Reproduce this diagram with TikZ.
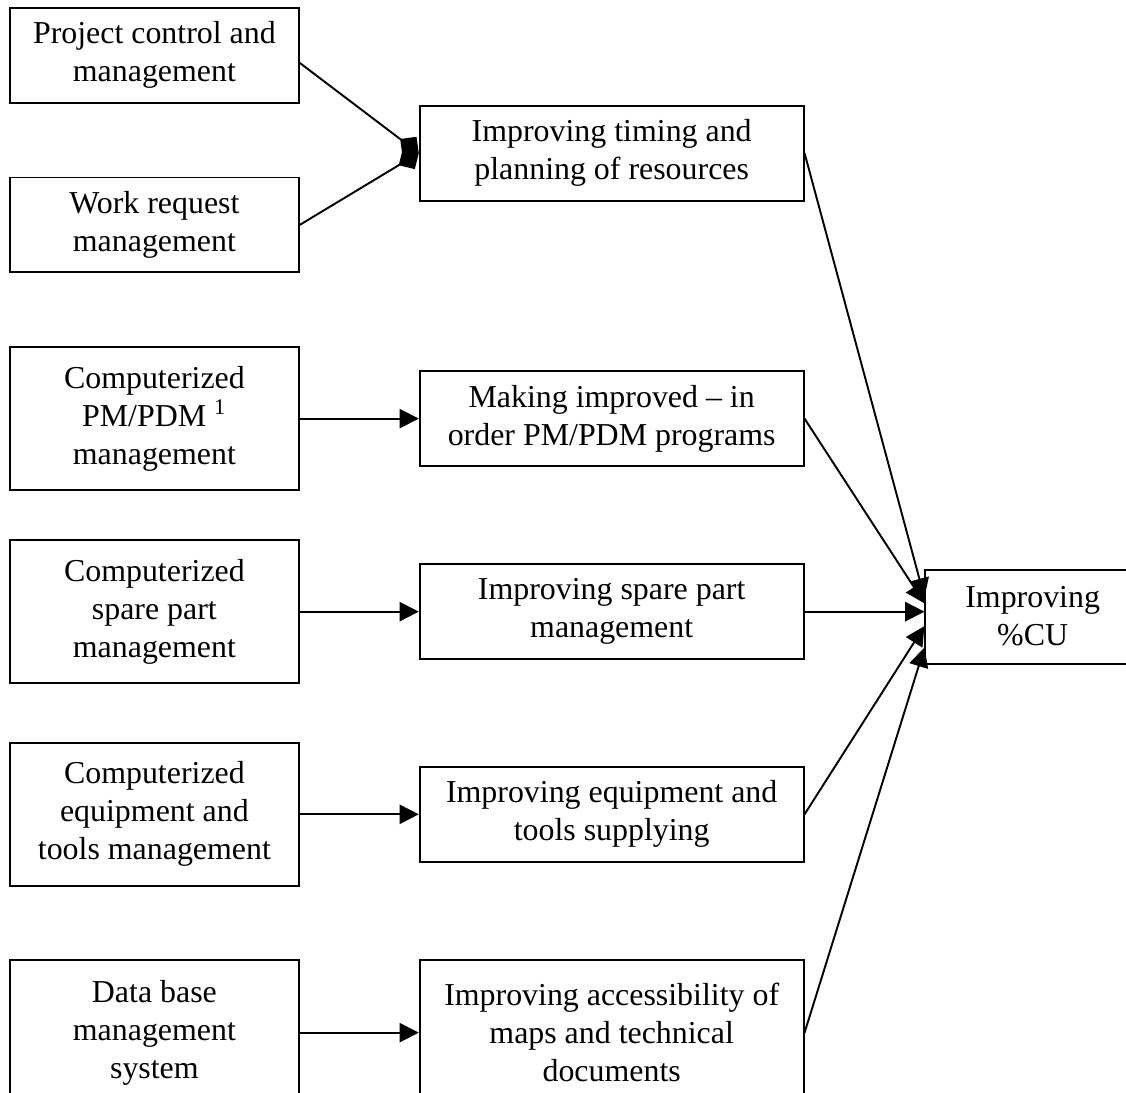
\documentclass[tikz,border=0pt]{standalone}
\usepackage{fontspec}
\setmainfont{Liberation Serif}
\usepackage{tikz}
\usetikzlibrary{arrows.meta, positioning}

\begin{document}
\begin{tikzpicture}[
    source/.style={rectangle, draw=black, line width=0.7pt, minimum width=105pt,
                   minimum height=52pt, align=center, inner sep=2pt,
                   font=\fontsize{11.6}{13.8}\selectfont},
    effect/.style={source, minimum width=139.6pt, minimum height=34.5pt},
    goal/.style={source, minimum width=78pt, minimum height=34.2pt},
    arrow/.style={-{Triangle[length=7pt, width=7pt]}, line width=0.7pt},
    diamondarrow/.style={-{Diamond[length=8.5pt, width=8.5pt]}, line width=0.7pt},
]
    \useasboundingbox (0,0) rectangle (409.5pt,-397.5pt);

    % left column: computerized tools
    \node[source, minimum height=34.5pt, anchor=north west] (pcm) at (3.3pt,-2.5pt) {Project control and\\management};
    \node[source, minimum height=34.5pt, below=26.5pt of pcm] (wrm) {Work request\\management};
    \node[source, below=26.5pt of wrm] (pdm) {Computerized\\PM/PDM \textsuperscript{1}\\management};
    \node[source, below=17.5pt of pdm] (spare) {Computerized\\spare part\\management};
    \node[source, below=21pt of spare] (tools) {Computerized\\equipment and\\tools management};
    \node[source, minimum height=53pt, below=26.2pt of tools] (dbms) {Data base\\management\\system};

    % middle column: effects
    \node[effect, below right=0.4pt and 43.3pt of pcm] (timing) {Improving timing and\\planning of resources};
    \node[effect, right=43.3pt of pdm] (pmprog) {Making improved – in\\order PM/PDM programs};
    \node[effect, right=43.3pt of spare] (sparepart) {Improving spare part\\management};
    \node[effect, right=43.3pt of tools] (supply) {Improving equipment and\\tools supplying};
    \node[effect, minimum height=53pt, right=43.3pt of dbms] (access) {Improving accessibility of\\maps and technical\\documents};

    % right: overall result
    \node[goal, right=43.6pt of sparepart, yshift=-1.8pt] (cu) {Improving\\\%CU};

    % Arrows
    \draw[diamondarrow] (pcm.-3) -- (timing.west);
    \draw[diamondarrow] (wrm.east) -- (timing.west);

    \draw[arrow] (pdm) -- (pmprog);
    \draw[arrow] (spare) -- (sparepart);
    \draw[arrow] (tools) -- (supply);
    \draw[arrow] (dbms) -- (access);

    \draw[arrow] (timing.east) -- (cu.170);
    \draw[arrow] (pmprog.east) -- (cu.173);
    \draw[arrow] (sparepart) -- (sparepart -| cu.west);
    \draw[arrow] (supply.east) -- (cu.185);
    \draw[arrow] (access.east) -- (cu.196);
\end{tikzpicture}
\end{document}
